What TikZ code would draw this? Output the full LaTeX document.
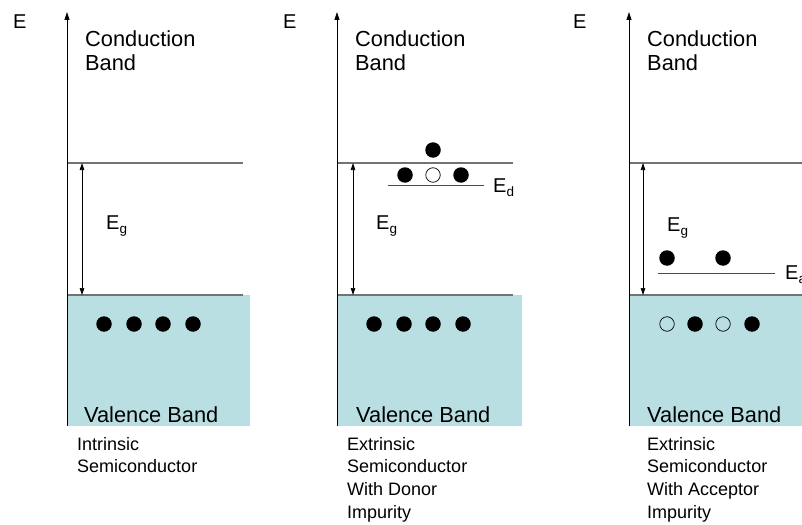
\documentclass[tikz,border=0pt]{standalone}
\usepackage{fontspec}
\setmainfont{Liberation Sans}
\usepackage{xcolor}
\usetikzlibrary{arrows.meta, positioning}
\definecolor{valfill}{RGB}{186,223,226}
\newcommand{\lvlsub}[1]{\raisebox{-4.5pt}{\fontsize{13.5}{13.5}\selectfont #1}}

\begin{document}
\begin{tikzpicture}[
    x=1pt, y=-1pt,
    every node/.style={inner sep=0pt},
    big/.style={font=\fontsize{21.8}{24.5}\selectfont, align=left, anchor=north west},
    small/.style={font=\fontsize{18}{22.7}\selectfont, align=left, anchor=north west},
    lbl/.style={font=\fontsize{20}{20}\selectfont, anchor=base west},
    band/.style={draw=black!55, line width=1.3pt},
    level/.style={draw=black!70, line width=1pt},
    axis/.style={-{Triangle[length=8pt, width=5pt]}, line width=0.8pt},
    gap/.style={{Triangle[length=7pt, width=4.5pt]}-{Triangle[length=7pt, width=4.5pt]}, line width=0.7pt},
    valence/.style={fill=valfill, draw=none},
    dot/.style={circle, fill=black, minimum size=15.5pt},
    hole/.style={circle, draw=black, line width=0.7pt, minimum size=14.5pt},
]
\useasboundingbox (0,0) rectangle (802,524);

% === LEFT: Intrinsic ===
\fill[valence] (67,295) rectangle (250,426);
\coordinate (cb1) at (67,163);
\coordinate (cb1e) at (243,163);
\coordinate (vb1) at (67,295);
\coordinate (vb1e) at (243,295);
\draw[band] (cb1) -- (cb1e);
\draw[band] (vb1) -- (vb1e);
\coordinate (o1) at (67,426);
\coordinate (t1) at (67,12);
\draw[axis] (o1) -- (t1);
\coordinate (gt1) at (82,163);
\coordinate (gb1) at (82,295);
\draw[gap] (gt1) -- (gb1);

\node[lbl] (e1) at (13,29) {E};
\node[big] (cond1) at (85,30.5) {Conduction\\Band};
\node[big, anchor=base west] (val1) at (84,422) {Valence Band};
\node[small] (name1) at (77,437) {Intrinsic\\Semiconductor};
\node[lbl] (eg1) at (106,229) {E\lvlsub{g}};

\node[dot] (v1a) at (104,324) {};
\node[dot] (v1b) at (134,324) {};
\node[dot] (v1c) at (163,324) {};
\node[dot] (v1d) at (193,324) {};

% === MIDDLE: Donor ===
\fill[valence] (337,295) rectangle (522,426);
\coordinate (cb2) at (337,163);
\coordinate (cb2e) at (513,163);
\coordinate (vb2) at (337,295);
\coordinate (vb2e) at (513,295);
\draw[band] (cb2) -- (cb2e);
\draw[band] (vb2) -- (vb2e);
\coordinate (o2) at (337,426);
\coordinate (t2) at (337,12);
\draw[axis] (o2) -- (t2);
\coordinate (gt2) at (353,163);
\coordinate (gb2) at (353,295);
\draw[gap] (gt2) -- (gb2);
\coordinate (ed) at (388,185);
\coordinate (ede) at (484,185);
\draw[level] (ed) -- (ede);

\node[lbl] (e2) at (283,29) {E};
\node[big] (cond2) at (355,30.5) {Conduction\\Band};
\node[big, anchor=base west] (val2) at (356,422) {Valence Band};
\node[small] (name2) at (347,437) {Extrinsic\\Semiconductor\\With Donor\\Impurity};
\node[lbl] (eg2) at (376,229) {E\lvlsub{g}};
\node[lbl] (edl) at (493,192) {E\lvlsub{d}};

\node[dot] (d2a) at (405,175) {};
\node[hole] (d2b) at (433,175) {};
\node[dot] (d2c) at (461,175) {};
\node[dot] (c2a) at (433,150) {};

\node[dot] (v2a) at (374,324) {};
\node[dot] (v2b) at (404,324) {};
\node[dot] (v2c) at (433,324) {};
\node[dot] (v2d) at (463,324) {};

% === RIGHT: Acceptor ===
\fill[valence] (629,295) rectangle (812,426);
\coordinate (cb3) at (629,163);
\coordinate (cb3e) at (812,163);
\coordinate (vb3) at (629,295);
\coordinate (vb3e) at (812,295);
\draw[band] (cb3) -- (cb3e);
\draw[band] (vb3) -- (vb3e);
\coordinate (o3) at (629,426);
\coordinate (t3) at (629,12);
\draw[axis] (o3) -- (t3);
\coordinate (gt3) at (643,163);
\coordinate (gb3) at (643,295);
\draw[gap] (gt3) -- (gb3);
\coordinate (ea) at (658,273);
\coordinate (eae) at (775,273);
\draw[level] (ea) -- (eae);

\node[lbl] (e3) at (573,29) {E};
\node[big] (cond3) at (647,30.5) {Conduction\\Band};
\node[big, anchor=base west] (val3) at (647,422) {Valence Band};
\node[small] (name3) at (647,437) {Extrinsic\\Semiconductor\\With Acceptor\\Impurity};
\node[lbl] (eg3) at (667,231) {E\lvlsub{g}};
\node[lbl] (eal) at (785,279) {E\lvlsub{a}};

\node[dot] (a3a) at (667,258) {};
\node[dot] (a3b) at (723,258) {};

\node[hole] (v3a) at (667,324) {};
\node[dot] (v3b) at (695,324) {};
\node[hole] (v3c) at (723,324) {};
\node[dot] (v3d) at (752,324) {};

\end{tikzpicture}
\end{document}
